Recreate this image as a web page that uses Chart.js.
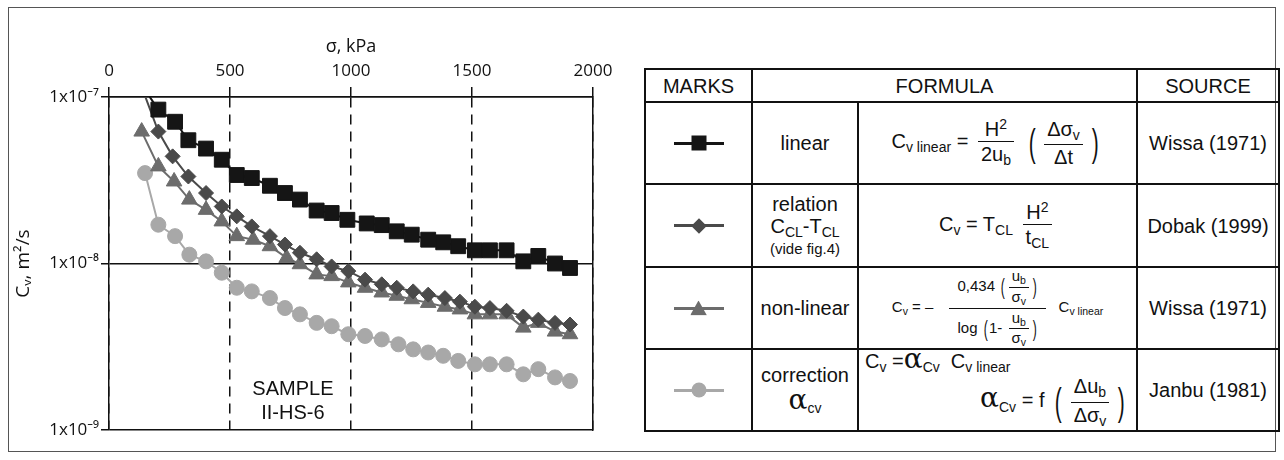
<!DOCTYPE html>
<html>
<head>
<meta charset="utf-8">
<script src="https://cdn.jsdelivr.net/npm/chart.js@4.4.0/dist/chart.umd.min.js"></script>
<style>
  body { margin:0; background:#fff; width:1284px; height:460px; overflow:hidden; position:relative;
         font-family:"Liberation Sans", Arial, sans-serif; color:#111; }
  #marco { position:absolute; left:8px; top:7px; width:1268px; height:445px; border:1.5px solid #555; box-sizing:border-box; }
  #chartBox { position:absolute; left:0; top:0; width:630px; height:460px; }
  #tabla { position:absolute; left:644px; top:68px; width:634px; height:363px; border-collapse:collapse; table-layout:fixed; }
  #tabla th, #tabla td { border:2px solid #111; text-align:center; vertical-align:middle; padding:0;
                         font-weight:normal; font-size:20px; line-height:1.1; }
  .marca { position:relative; width:50px; height:16px; margin:0 auto; }
  .linea { position:absolute; left:0; right:0; top:6.5px; height:3px; }
  .pt { position:absolute; left:50%; top:50%; transform:translate(-50%,-50%); }
  .cuadro { width:15px; height:15px; background:#151515; }
  .rombo { width:11px; height:11px; background:#4a4a4a; transform:translate(-50%,-50%) rotate(45deg); }
  .tri { width:17px; height:15px; background:#6c6c6c; clip-path:polygon(50% 0, 100% 100%, 0 100%); }
  .circ { width:15px; height:15px; border-radius:50%; background:#a8a8a8; }
  .f { font-size:20px; white-space:nowrap; }
  .f sub { font-size:70%; vertical-align:-0.3em; }
  .f sup { font-size:70%; vertical-align:0.5em; }
  .frac { display:inline-flex; flex-direction:column; vertical-align:middle; text-align:center; margin:0 4px; }
  .frac .num { border-bottom:1.5px solid #111; padding:0 3px 1px; }
  .frac .den { padding:1px 3px 0; }
  .par { display:inline-block; font-size:38px; font-weight:300; transform:scaleX(0.55); vertical-align:middle; margin:0 2px; line-height:1; }
  .chica { font-size:15px; line-height:1; }
  .chica .par { font-size:22px; margin:0; }
  .chica .frac .frac { margin:0 2px; }
  .alfa { font-family:"DejaVu Serif", serif; font-size:28px; line-height:1; }
  td sub { font-size:70%; vertical-align:-0.3em; }
</style>
</head>
<body>
<div id="marco"></div>
<div id="chartBox"><canvas id="GraphCv"></canvas></div>

<table id="tabla">
  <colgroup><col style="width:107px"><col style="width:106px"><col style="width:279px"><col style="width:142px"></colgroup>
  <tr style="height:33px"><th>MARKS</th><th colspan="2">FORMULA</th><th>SOURCE</th></tr>
  <tr style="height:82px">
    <td><div class="marca"><span class="linea" style="background:#151515"></span><span class="pt cuadro"></span></div></td>
    <td>linear</td>
    <td><span class="f">C<sub>v linear</sub> = <span class="frac"><span class="num">H<sup>2</sup></span><span class="den">2u<sub>b</sub></span></span>
      <span class="par">(</span><span class="frac"><span class="num">Δσ<sub>v</sub></span><span class="den">Δt</span></span><span class="par">)</span></span></td>
    <td>Wissa (1971)</td>
  </tr>
  <tr style="height:83px">
    <td><div class="marca"><span class="linea" style="background:#4a4a4a"></span><span class="pt rombo"></span></div></td>
    <td><div>relation</div><div>C<sub>CL</sub>-T<sub>CL</sub></div><div style="font-size:15px">(vide fig.4)</div></td>
    <td><span class="f">C<sub>v</sub> = T<sub>CL</sub> <span class="frac"><span class="num">H<sup>2</sup></span><span class="den">t<sub>CL</sub></span></span></span></td>
    <td>Dobak (1999)</td>
  </tr>
  <tr style="height:82px">
    <td><div class="marca"><span class="linea" style="background:#6c6c6c"></span><span class="pt tri"></span></div></td>
    <td>non-linear</td>
    <td><span class="f chica">C<sub>v</sub> = &ndash;
      <span class="frac" style="margin:0 8px 0 12px"><span class="num" style="padding:0 8px 1px">0,434 <span class="par">(</span><span class="frac"><span class="num">u<sub>b</sub></span><span class="den">σ<sub>v</sub></span></span><span class="par">)</span></span>
      <span class="den">log <span class="par">(</span>1- <span class="frac"><span class="num">u<sub>b</sub></span><span class="den">σ<sub>v</sub></span></span><span class="par">)</span></span></span>
      C<sub>v linear</sub></span></td>
    <td>Wissa (1971)</td>
  </tr>
  <tr style="height:82px">
    <td><div class="marca"><span class="linea" style="background:#a8a8a8"></span><span class="pt circ"></span></div></td>
    <td><div>correction</div><div><span class="alfa">α</span><sub>cv</sub></div></td>
    <td style="padding:0 6px">
      <div class="f" style="text-align:left; margin-top:-6px">C<sub>v</sub> =<span class="alfa">α</span><sub>Cv</sub> &nbsp;C<sub>v linear</sub></div>
      <div class="f" style="text-align:right"><span class="alfa">α</span><sub>Cv</sub> = f <span class="par">(</span><span class="frac"><span class="num">Δu<sub>b</sub></span><span class="den">Δσ<sub>v</sub></span></span><span class="par">)</span></div>
    </td>
    <td>Janbu (1981)</td>
  </tr>
</table>

<script>
// sigma (kPa) y Cv (m2/s)
var sigmaLinear = [100, 204, 273, 328, 401, 466, 528, 590, 665, 727, 789, 858, 920, 985, 1065, 1127, 1189, 1251, 1319, 1381, 1443, 1512, 1574, 1643, 1712, 1774, 1843, 1905];
var cvLinear = [1.40e-7, 8.4e-8, 7.1e-8, 5.5e-8, 4.9e-8, 4.2e-8, 3.4e-8, 3.26e-8, 2.93e-8, 2.65e-8, 2.42e-8, 2.08e-8, 2.01e-8, 1.83e-8, 1.74e-8, 1.70e-8, 1.56e-8, 1.49e-8, 1.39e-8, 1.34e-8, 1.27e-8, 1.2e-8, 1.2e-8, 1.2e-8, 1.03e-8, 1.11e-8, 1.0e-8, 9.4e-9];

var sigmaRelation = [100, 204, 263, 328, 401, 466, 528, 590, 665, 727, 789, 858, 920, 989, 1058, 1127, 1189, 1257, 1319, 1388, 1450, 1512, 1574, 1643, 1712, 1774, 1843, 1905];
var cvRelation = [1.57e-7, 6.2e-8, 4.4e-8, 3.33e-8, 2.65e-8, 2.2e-8, 1.92e-8, 1.67e-8, 1.46e-8, 1.3e-8, 1.16e-8, 1.06e-8, 9.6e-9, 9.0e-9, 8.0e-9, 7.5e-9, 7.15e-9, 6.8e-9, 6.5e-9, 6.2e-9, 5.9e-9, 5.5e-9, 5.4e-9, 5.2e-9, 4.8e-9, 4.6e-9, 4.4e-9, 4.3e-9];

var sigmaNonLinear = [135, 204, 269, 332, 401, 466, 528, 596, 665, 734, 789, 858, 920, 989, 1058, 1127, 1189, 1251, 1319, 1388, 1450, 1512, 1574, 1643, 1712, 1774, 1843, 1905];
var cvNonLinear = [6.2e-8, 3.83e-8, 3.11e-8, 2.42e-8, 2.1e-8, 1.79e-8, 1.46e-8, 1.39e-8, 1.27e-8, 1.08e-8, 9.9e-9, 8.6e-9, 8.4e-9, 7.7e-9, 7.15e-9, 6.7e-9, 6.4e-9, 6.1e-9, 5.8e-9, 5.5e-9, 5.3e-9, 4.95e-9, 4.95e-9, 4.95e-9, 4.12e-9, 4.4e-9, 3.9e-9, 3.76e-9];

var sigmaCorrection = [149, 204, 273, 332, 401, 466, 528, 590, 665, 727, 789, 858, 920, 989, 1058, 1127, 1196, 1257, 1319, 1381, 1443, 1512, 1574, 1643, 1712, 1774, 1843, 1905];
var cvCorrection = [3.49e-8, 1.71e-8, 1.46e-8, 1.13e-8, 1.03e-8, 8.8e-9, 7.15e-9, 6.8e-9, 6.2e-9, 5.4e-9, 4.95e-9, 4.4e-9, 4.2e-9, 3.76e-9, 3.67e-9, 3.5e-9, 3.27e-9, 3.05e-9, 2.92e-9, 2.79e-9, 2.6e-9, 2.48e-9, 2.48e-9, 2.48e-9, 2.16e-9, 2.32e-9, 2.07e-9, 1.97e-9];

var xTicks = [0, 500, 1000, 1500, 2000];
var xTickLabels = ["0", "500", "1000", "1500", "2000"];
var yTicks = [1e-9, 1e-8, 1e-7];
var yTickLabels = ["1x10⁻⁹", "1x10⁻⁸", "1x10⁻⁷"];

var fuenteEje = "'Open Sans', 'Noto Sans', sans-serif";

function puntos(xs, ys) {
  return xs.map(function (x, i) {
    return { x: x, y: ys[i] };
  });
}

function serie(label, xs, ys, color, estilo, radio, orden) {
  return {
    label: label,
    data: puntos(xs, ys),
    borderColor: color,
    backgroundColor: color,
    borderWidth: 2,
    pointStyle: estilo,
    pointRadius: radio,
    pointHoverRadius: radio,
    pointBorderWidth: 1,
    showLine: true,
    tension: 0,
    order: orden,
  };
}

// texto SAMPLE II-HS-6 dentro del grafico
var textoMuestra = {
  id: "textoMuestra",
  afterDatasetsDraw: function (chart) {
    var ctx = chart.ctx;
    var xs = chart.scales.x;
    var ys = chart.scales.y;
    ctx.save();
    ctx.font = "20px 'Liberation Sans', Arial, sans-serif";
    ctx.fillStyle = "#111";
    ctx.textAlign = "center";
    ctx.textBaseline = "middle";
    ctx.fillText("SAMPLE", xs.getPixelForValue(760), ys.getPixelForValue(1.76e-9));
    ctx.fillText("II-HS-6", xs.getPixelForValue(760), ys.getPixelForValue(1.25e-9));
    ctx.restore();
  },
};

window.onload = function () {
  var ctx = document.getElementById("GraphCv");
  window.graphCv = new Chart(ctx, {
    type: "scatter",
    data: {
      datasets: [
        serie("linear", sigmaLinear, cvLinear, "#151515", "rect", 10.5, 1),
        serie("relation", sigmaRelation, cvRelation, "#4a4a4a", "rectRot", 7.5, 2),
        serie("non-linear", sigmaNonLinear, cvNonLinear, "#6c6c6c", "triangle", 9, 3),
        serie("correction", sigmaCorrection, cvCorrection, "#a8a8a8", "circle", 7.5, 4),
      ],
    },
    options: {
      responsive: true,
      maintainAspectRatio: false,
      animation: false,
      layout: { padding: { left: 0, right: 37, top: 0, bottom: 30 } },
      plugins: { legend: { display: false }, tooltip: { enabled: false } },
      scales: {
        x: {
          type: "linear",
          position: "top",
          min: 0,
          max: 2000,
          afterBuildTicks: function (s) {
            s.ticks = xTicks.map(function (v) { return { value: v }; });
          },
          afterFit: function (s) { s.height = 97; },
          grid: { color: "#111", lineWidth: 1.5, tickLength: 10, tickColor: "#111", tickWidth: 1.5 },
          border: { display: true, color: "#111", width: 1.5, dash: [10, 7] },
          ticks: {
            color: "#111",
            font: { family: fuenteEje, size: 17 },
            padding: 6,
            maxRotation: 0,
            callback: function (v, i) { return xTickLabels[i]; },
          },
          title: { display: true, text: "σ, kPa", color: "#111", font: { family: fuenteEje, size: 18 }, padding: { top: 36, bottom: 0 } },
        },
        y: {
          type: "logarithmic",
          position: "left",
          min: 1e-9,
          max: 1e-7,
          afterBuildTicks: function (s) {
            s.ticks = yTicks.map(function (v) { return { value: v, major: true }; });
          },
          afterFit: function (s) { s.width = 109; },
          grid: { color: "#111", lineWidth: 1.5, tickLength: 8, tickColor: "#111", tickWidth: 1.5 },
          border: { display: true, color: "#111", width: 1.5 },
          ticks: {
            color: "#111",
            font: { family: fuenteEje, size: 17 },
            padding: 2,
            callback: function (v, i) { return yTickLabels[i]; },
          },
          title: { display: true, text: "Cᵥ, m²/s", color: "#111", font: { family: fuenteEje, size: 19 }, padding: { top: 12, bottom: 0 } },
        },
        y2: {
          type: "linear",
          position: "right",
          grid: { display: false },
          ticks: { display: false },
          border: { display: true, color: "#111", width: 1.5 },
          afterFit: function (s) { s.width = 0; },
        },
      },
    },
    plugins: [textoMuestra],
  });
};
</script>
</body>
</html>
